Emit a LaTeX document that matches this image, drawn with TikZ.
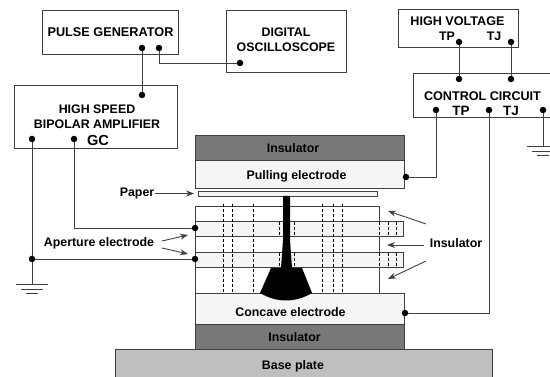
\documentclass[tikz,border=0pt]{standalone}
\usepackage{fontspec}
\setmainfont{Liberation Sans}
\usetikzlibrary{positioning}
\usetikzlibrary{arrows.meta}
\definecolor{linegray}{gray}{0.25}
\definecolor{elecgray}{gray}{0.96}
\definecolor{insgray}{gray}{0.47}
\definecolor{basegray}{gray}{0.75}
\tikzstyle{arrow} = [line width=0.9pt,-{Stealth[length=8pt,width=6pt]},draw=linegray]
\tikzstyle{wire} = [draw=linegray,line width=0.9pt]
\tikzstyle{box} = [draw=linegray,line width=0.8pt,fill=white,inner sep=0pt,outer sep=0pt,anchor=north west]
\tikzstyle{layer} = [box,minimum width=209pt,anchor=center]
\tikzstyle{dot} = [circle,fill=black,inner sep=0pt,minimum size=6.5pt]
\tikzstyle{lbl} = [inner sep=0pt,font=\fontsize{12.4}{15}\selectfont\bfseries]
\tikzstyle{pin} = [inner sep=0pt,font=\fontsize{13.5}{15}\selectfont\bfseries]

\begin{document}
\begin{tikzpicture}[x=1pt,y=-1pt]
	\useasboundingbox (0,0) rectangle (550,377);
	
	%Instrument boxes
	\node (pulse) [box,minimum width=136pt,minimum height=44pt] at (42,10) {};
	\node (pulsetext) [lbl,font=\fontsize{12.7}{15}\selectfont\bfseries] at (110.5,32) {PULSE GENERATOR};
	\node (scope) [box,minimum width=120pt,minimum height=62pt] at (226,10) {};
	\node (scopetext) [lbl,align=center] at (286,40) {DIGITAL\\OSCILLOSCOPE};
	\node (amp) [box,minimum width=163pt,minimum height=63pt] at (14,85) {};
	\node (amptext) [lbl,align=center] at (97,117) {HIGH SPEED\\BIPOLAR AMPLIFIER};
	\node (gc) [pin,font=\fontsize{14.6}{15}\selectfont\bfseries] at (98,140) {GC};
	\node (hv) [box,minimum width=120pt,minimum height=38pt] at (398,9) {};
	\node (hvtext) [lbl,font=\fontsize{12.6}{15}\selectfont\bfseries] at (457.5,21) {HIGH VOLTAGE};
	\node (hvtp) [lbl] at (447,36) {TP};
	\node (hvtj) [lbl] at (494,36) {TJ};
	\node (ctrl) [box,minimum width=140pt,minimum height=44pt] at (413,73) {};
	\node (ctrltext) [lbl,font=\fontsize{12.6}{15}\selectfont\bfseries] at (482.5,96) {CONTROL CIRCUIT};
	\node (ctrltp) [pin] at (461,111) {TP};
	\node (ctrltj) [pin] at (511,111) {TJ};
	
	%Electrode stack
	\node (stack) [box,minimum width=184pt,minimum height=87pt] at (195,206) {};
	\node (topins) [layer,fill=insgray,minimum height=25pt] at (299.5,147.5) {};
	\node (pulling) [layer,fill=elecgray,minimum height=28pt,below=0pt of topins] {};
	\node (paper) [box,anchor=center,fill=elecgray,minimum width=179pt,minimum height=5pt,below=3pt of pulling,xshift=-12pt] {};
	\node (elec1) [layer,fill=elecgray,minimum width=208pt,minimum height=14.5pt] at (299,229) {};
	\node (elec2) [layer,fill=elecgray,minimum width=208pt,minimum height=15pt,below=16.5pt of elec1] {};
	\node (concave) [layer,fill=elecgray,minimum height=31pt] at (299.5,308.5) {};
	\node (botins) [layer,fill=insgray,minimum height=25pt,below=0pt of concave] {};
	\node (base) [layer,fill=basegray,minimum width=377pt,minimum height=30pt,below=0pt of botins,xshift=4pt] {};
	
	%Layer names
	\node (topinstext) [lbl] at (293,148) {Insulator};
	\node (pullingtext) [lbl] at (296.5,176) {Pulling electrode};
	\node (concavetext) [lbl] at (290.5,312) {Concave electrode};
	\node (botinstext) [lbl] at (294.5,337) {Insulator};
	\node (basetext) [lbl] at (293,366) {Base plate};
	
	%Holes
	\foreach \x in {223,232,253,322,333,342}
		\draw[densely dashed,thin] (\x,204) -- (\x,293);
	\foreach \x in {279,294,379,388,396}{
		\draw[densely dashed,thin] (\x,222) -- (\x,236);
		\draw[densely dashed,thin] (\x,253) -- (\x,268);
	}
	
	%Ink column
	\fill (283,196) -- (290,196) -- (290,240) -- (292,268) -- (302,268) -- (312,293) .. controls (295,303) and (277,303) .. (260,293) -- (271,268) -- (281,268) -- (283,240) -- cycle;
	
	%Dots
	\node (pulsea) [dot] at (142,48) {};
	\node (pulseb) [dot] at (159,48) {};
	\node (scopea) [dot] at (240,63) {};
	\node (ampin) [dot] at (142,95) {};
	\node (ampa) [dot] at (32,139) {};
	\node (ampb) [dot] at (74,139) {};
	\node (hva) [dot] at (459,42) {};
	\node (hvb) [dot] at (511,42) {};
	\node (ctrla) [dot] at (459,79) {};
	\node (ctrlb) [dot] at (511,79) {};
	\node (ctrlc) [dot] at (436,110) {};
	\node (ctrld) [dot] at (489,110) {};
	\node (ctrle) [dot] at (543,110) {};
	\node (pulldot) [dot] at (406,177) {};
	\node (concdot) [dot] at (405,313) {};
	\node (elecdot1) [dot] at (195,228) {};
	\node (elecdot2) [dot] at (195,259) {};
	\node (junction) [dot] at (32,259) {};
	
	%Lines
	\draw[wire] (pulsea) -- (ampin);
	\draw[wire] (pulseb) |- (scopea);
	\draw[wire] (hva) -- (ctrla);
	\draw[wire] (hvb) -- (ctrlb);
	\draw[wire] (ctrlc) |- (pulldot);
	\draw[wire] (ctrld) |- (concdot);
	\draw[wire] (ampb) |- (elecdot1);
	\draw[wire] (junction) -- (elecdot2);
	\draw[wire] (ampa) -- (junction);
	
	%Grounds
	\coordinate (gnda) at (32,284);
	\coordinate (gndb) at (543,146);
	\draw[wire] (junction) -- (gnda);
	\draw[wire] (ctrle) -- (gndb);
	\foreach \g in {gnda,gndb}
		\foreach \w/\d in {16/0,11/5,6/9}
			\draw[wire] ([xshift=-\w pt,yshift=-\d pt]\g) -- ([xshift=\w pt,yshift=-\d pt]\g);
	
	%Labels
	\node (papertext) [lbl] at (137,193.5) {Paper};
	\node (apertext) [lbl] at (99,243) {Aperture electrode};
	\node (instext) [lbl] at (456,243) {Insulator};
	\coordinate (apera) at (188,235);
	\coordinate (aperb) at (188,254);
	\coordinate (aperc) at (162,241);
	\coordinate (aperd) at (162,248);
	\coordinate (insa) at (388,211);
	\coordinate (insb) at (387,245);
	\coordinate (insc) at (388,279);
	\coordinate (insd) at (426,224);
	\coordinate (inse) at (424,245);
	\coordinate (insf) at (426,261);
	\draw[arrow,shorten >=4pt,shorten <=1pt] (papertext) -- (paper);
	\draw[arrow] (aperc) -- (apera);
	\draw[arrow] (aperd) -- (aperb);
	\draw[arrow] (insd) -- (insa);
	\draw[arrow] (inse) -- (insb);
	\draw[arrow] (insf) -- (insc);
\end{tikzpicture}
\end{document}
